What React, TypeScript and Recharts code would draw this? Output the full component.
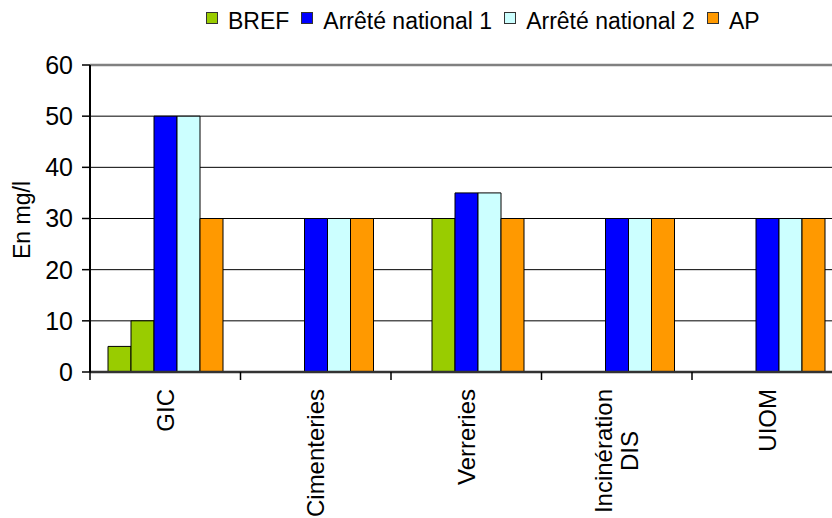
import { BarChart, Bar, XAxis, YAxis, CartesianGrid, Legend, ReferenceLine } from 'recharts';

const categories = ['GIC', 'Cimenteries', 'Verreries', 'Incinération\nDIS', 'UIOM'];
const brefLow = [5, null, null, null, null];
const brefHigh = [10, null, 30, null, null];
const arrete1 = [50, 30, 35, 30, 30];
const arrete2 = [50, 30, 35, 30, 30];
const ap = [30, 30, 30, 30, 30];
const yTicks = [0, 10, 20, 30, 40, 50, 60];

const GREEN = '#99CC00';
const BLUE = '#0000FF';
const CYAN = '#CCFFFF';
const ORANGE = '#FF9900';
const FONT = '"Liberation Sans", Arial, sans-serif';

const legendItems = [
  { name: 'BREF', color: GREEN },
  { name: 'Arrêté national 1', color: BLUE },
  { name: 'Arrêté national 2', color: CYAN },
  { name: 'AP', color: ORANGE },
];

const data = categories.map((name, i) => ({
  name,
  brefLow: brefLow[i],
  brefHigh: brefHigh[i],
  arrete1: arrete1[i],
  arrete2: arrete2[i],
  ap: ap[i],
}));

// chart layout
const CHART_W = 860;
const CHART_H = 518;
const MARGIN = { top: 39, right: 17.5, left: 30, bottom: 0 };
const Y_W = 60;
const BAND = (CHART_W - MARGIN.left - MARGIN.right - Y_W) / categories.length;

let ctx: CanvasRenderingContext2D | null = null;
function measure(s: string, size: number) {
  if (!ctx) ctx = document.createElement('canvas').getContext('2d');
  if (!ctx) return s.length * size * 0.5;
  ctx.font = `${size}px "Liberation Sans", Arial, sans-serif`;
  return ctx.measureText(s).width;
}

const CategoryTick = (props: any) => {
  const { x, y, payload, index } = props;
  const lines = String(payload.value).split('\n');
  const half = BAND / 2;
  const longest = Math.max(...lines.map((l) => measure(l, 24)));
  const mid = y + 17 + longest / 2;
  const lh = 26;
  return (
    <g>
      {index === 0 && (
        <line x1={x - half} x2={x - half} y1={y} y2={y + 8} stroke="#000" strokeWidth={1.5} />
      )}
      <line x1={x + half} x2={x + half} y1={y} y2={y + 8} stroke="#000" strokeWidth={1.5} />
      {lines.map((l, k) => (
        <text
          key={k}
          transform={`translate(${x + (k - (lines.length - 1) / 2) * lh}, ${mid}) rotate(-90)`}
          textAnchor="middle"
          dy="0.35em"
          fontSize={24}
          fontFamily={FONT}
          fill="#000"
        >
          {l}
        </text>
      ))}
    </g>
  );
};

const LegendBox = () => (
  <div style={{ display: 'flex', alignItems: 'flex-start', height: 26, lineHeight: '26px', fontFamily: FONT, fontSize: 23, color: '#000', whiteSpace: 'nowrap' }}>
    {legendItems.map((it) => (
      <div key={it.name} style={{ display: 'flex', alignItems: 'flex-start', marginRight: 12 }}>
        <span style={{ width: 10, height: 10, marginTop: 4, marginRight: 10, background: it.color, border: '1px solid #333' }} />
        <span>{it.name}</span>
      </div>
    ))}
  </div>
);

export default function App() {
  return (
    <div style={{ position: 'fixed', left: 0, top: 0, width: 832, height: 518, overflow: 'hidden', background: '#fff' }}>
      <BarChart width={CHART_W} height={CHART_H} data={data} margin={MARGIN} barGap={0}>
        <Legend
          verticalAlign="top"
          align="left"
          content={<LegendBox />}
          wrapperStyle={{ top: 8, left: 206, width: 'auto' }}
        />
        <CartesianGrid vertical={false} stroke="#000" strokeWidth={1} />
        <XAxis
          dataKey="name"
          interval={0}
          tickLine={false}
          tickSize={0}
          tickMargin={0}
          height={CHART_H - 372}
          axisLine={{ stroke: '#333', strokeWidth: 2.5 }}
          tick={<CategoryTick />}
        />
        <YAxis
          width={Y_W}
          domain={[0, 60]}
          ticks={yTicks}
          interval={0}
          tickSize={8}
          tickMargin={9}
          axisLine={{ stroke: '#000', strokeWidth: 2 }}
          tickLine={{ stroke: '#000', strokeWidth: 1.5 }}
          tick={{ fill: '#000', fontSize: 25, fontFamily: FONT }}
          label={{
            content: () => (
              <text transform="translate(22, 220) rotate(-90)" textAnchor="middle" dy="0.35em" fontSize={23} fontFamily={FONT} fill="#000">
                En mg/l
              </text>
            ),
          }}
        />
        <ReferenceLine y={60} stroke="#808080" strokeWidth={2.5} />
        <Bar dataKey="brefLow" fill={GREEN} stroke="#000" strokeWidth={1} barSize={23} isAnimationActive={false} />
        <Bar dataKey="brefHigh" fill={GREEN} stroke="#000" strokeWidth={1} barSize={23} isAnimationActive={false} />
        <Bar dataKey="arrete1" fill={BLUE} stroke="#000" strokeWidth={1} barSize={23} isAnimationActive={false} />
        <Bar dataKey="arrete2" fill={CYAN} stroke="#000" strokeWidth={1} barSize={23} isAnimationActive={false} />
        <Bar dataKey="ap" fill={ORANGE} stroke="#000" strokeWidth={1} barSize={23} isAnimationActive={false} />
      </BarChart>
    </div>
  );
}
